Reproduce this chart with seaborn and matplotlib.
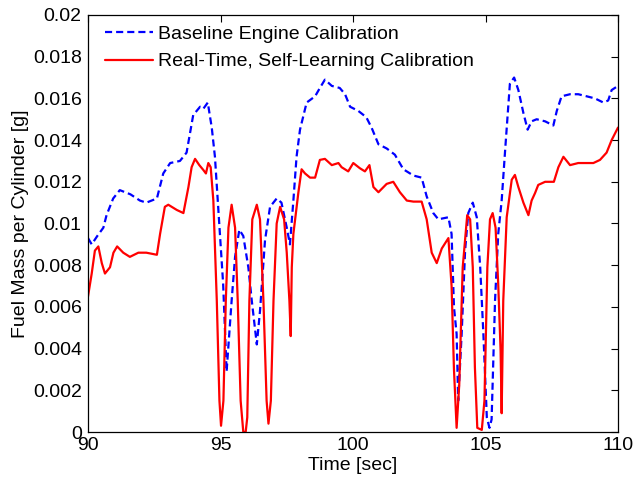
import numpy as np
import pandas as pd
import matplotlib
matplotlib.use('Agg')
import matplotlib.pyplot as plt
import seaborn as sns

# baseline engine calibration (blue dashed)
t_base = [90.0, 90.14, 90.35, 90.58, 90.70, 90.95, 91.2, 91.6, 91.96, 92.2,
          92.6, 92.84, 93.1, 93.47, 93.72, 93.97, 94.23, 94.35, 94.52, 94.67,
          94.79, 95.1, 95.23, 95.42, 95.55, 95.71, 95.86, 96.05, 96.18, 96.37,
          96.49, 96.68, 96.87, 97.12, 97.3, 97.5, 97.62, 97.75, 97.87, 98.0,
          98.25, 98.57, 98.75, 98.94, 99.2, 99.5, 99.7, 99.89, 100.2, 100.5,
          100.7, 100.96, 101.27, 101.58, 101.9, 102.28, 102.59, 102.78, 103.03, 103.22,
          103.6, 103.72, 103.81, 103.91, 103.97, 104.1, 104.23, 104.35, 104.52, 104.67,
          104.8, 104.92, 105.05, 105.15, 105.23, 105.36, 105.48, 105.61, 105.74, 105.92,
          106.08, 106.24, 106.43, 106.59, 106.74, 106.93, 107.25, 107.56, 107.69, 107.87,
          108.19, 108.5, 108.82, 109.13, 109.45, 109.63, 109.76, 110.0]
fuel_base = [0.0093, 0.0090, 0.0094, 0.0098, 0.0104, 0.0112, 0.0116, 0.0114, 0.0111, 0.0110,
             0.0112, 0.0124, 0.0129, 0.0130, 0.0134, 0.0152, 0.0156, 0.0155, 0.0158, 0.0146,
             0.0132, 0.0071, 0.0029, 0.0063, 0.0084, 0.0097, 0.0094, 0.0079, 0.0063, 0.0042,
             0.0058, 0.0092, 0.0108, 0.0112, 0.0110, 0.0098, 0.0090, 0.0111, 0.0132, 0.0145,
             0.0158, 0.0161, 0.0165, 0.0169, 0.0166, 0.0165, 0.0162, 0.0156, 0.0154, 0.0151,
             0.0146, 0.0138, 0.0136, 0.0133, 0.0126, 0.0123, 0.0122, 0.0113, 0.0105, 0.0102,
             0.0103, 0.0095, 0.0060, 0.0047, 0.0015, 0.0047, 0.0087, 0.0105, 0.0110, 0.0103,
             0.0079, 0.0047, 0.0007, 0.0002, 0.0006, 0.0063, 0.0095, 0.0111, 0.0135, 0.0167,
             0.0170, 0.0164, 0.0153, 0.0145, 0.0149, 0.0150, 0.0149, 0.0147, 0.0154, 0.0161,
             0.0162, 0.0162, 0.0161, 0.0160, 0.0158, 0.0159, 0.0164, 0.0166]

# real-time self-learning calibration (red solid)
t_rt = [90.0, 90.14, 90.26, 90.39, 90.52, 90.64, 90.83, 90.96, 91.1, 91.33,
        91.58, 91.9, 92.2, 92.6, 92.72, 92.9, 93.03, 93.35, 93.6, 93.79,
        93.91, 94.04, 94.2, 94.35, 94.45, 94.54, 94.63, 94.73, 94.86, 94.96,
        95.02, 95.11, 95.2, 95.3, 95.42, 95.55, 95.65, 95.76, 95.86, 95.95,
        96.01, 96.09, 96.2, 96.37, 96.49, 96.62, 96.74, 96.81, 96.9, 97.0,
        97.12, 97.25, 97.4, 97.5, 97.6, 97.65, 97.69, 97.75, 97.94, 98.06,
        98.19, 98.38, 98.57, 98.75, 98.94, 99.2, 99.45, 99.57, 99.82, 100.01,
        100.26, 100.45, 100.62, 100.77, 100.96, 101.27, 101.52, 101.77, 102.03, 102.28,
        102.59, 102.78, 102.97, 103.16, 103.35, 103.6, 103.72, 103.81, 103.91, 104.01,
        104.14, 104.31, 104.42, 104.52, 104.6, 104.69, 104.86, 104.96, 105.07, 105.17,
        105.27, 105.38, 105.48, 105.57, 105.61, 105.67, 105.8, 105.99, 106.11, 106.24,
        106.43, 106.62, 106.74, 106.87, 106.99, 107.25, 107.58, 107.75, 107.94, 108.19,
        108.5, 108.82, 109.07, 109.32, 109.57, 109.76, 110.0]
fuel_rt = [0.0065, 0.0076, 0.0087, 0.0089, 0.0081, 0.0076, 0.0079, 0.0086, 0.0089, 0.0086,
           0.0084, 0.0086, 0.0086, 0.0085, 0.0095, 0.0108, 0.0109, 0.01065, 0.0105, 0.01175,
           0.0127, 0.0131, 0.0128, 0.01257, 0.0124, 0.0129, 0.0127, 0.0111, 0.0063, 0.0015,
           0.0003, 0.0015, 0.0063, 0.0098, 0.0109, 0.0098, 0.0063, 0.0015, 0.0000, 0.0000,
           0.0007, 0.0063, 0.0102, 0.0109, 0.0102, 0.0063, 0.0015, 0.0004, 0.0015, 0.0063,
           0.0100, 0.0108, 0.0102, 0.0086, 0.0063, 0.0046, 0.0079, 0.0095, 0.0115, 0.0126,
           0.0124, 0.0122, 0.0122, 0.01305, 0.0131, 0.0128, 0.0129, 0.0127, 0.0125, 0.0129,
           0.01265, 0.0125, 0.0128, 0.01175, 0.0115, 0.0119, 0.0120, 0.0115, 0.0111, 0.01105,
           0.01105, 0.0102, 0.0086, 0.0081, 0.0088, 0.0093, 0.0070, 0.0030, 0.0002, 0.0023,
           0.0079, 0.0104, 0.0102, 0.0079, 0.0031, 0.0002, 0.0001, 0.0015, 0.0079, 0.0102,
           0.0105, 0.0098, 0.0071, 0.0039, 0.0009, 0.0063, 0.0103, 0.0121, 0.01233, 0.01175,
           0.0110, 0.0104, 0.0111, 0.01146, 0.01185, 0.0120, 0.0120, 0.0127, 0.0132, 0.0128,
           0.0129, 0.0129, 0.0129, 0.01305, 0.0134, 0.0140, 0.0146]

xticks = [90, 95, 100, 105, 110]
yticks = [0, 0.002, 0.004, 0.006, 0.008, 0.01, 0.012, 0.014, 0.016, 0.018, 0.02]
ytick_labels = ['0', '0.002', '0.004', '0.006', '0.008', '0.01', '0.012',
                '0.014', '0.016', '0.018', '0.02']

df_base = pd.DataFrame({'t': t_base, 'fuel': fuel_base})
df_rt = pd.DataFrame({'t': t_rt, 'fuel': fuel_rt})

sns.set_style('white')
plt.rcParams['font.family'] = ['Liberation Sans', 'DejaVu Sans']
plt.rcParams['font.size'] = 14
plt.rcParams['text.color'] = 'black'
plt.rcParams['axes.labelcolor'] = 'black'

fig = plt.figure(figsize=(6.36, 4.86), dpi=100)
ax = fig.add_axes([88/636, 54/486, 530/636, 417/486])

sns.lineplot(data=df_base, x='t', y='fuel', ax=ax, color='#0000ff', lw=1.6,
             sort=False, estimator=None, label='Baseline Engine Calibration')
ax.lines[-1].set_dashes((3.2, 1.8))
sns.lineplot(data=df_rt, x='t', y='fuel', ax=ax, color='#ff0000', lw=1.6,
             sort=False, estimator=None, label='Real-Time, Self-Learning Calibration')

ax.set_xlim(90, 110)
ax.set_ylim(0, 0.02)
ax.set_xticks(xticks)
ax.set_xticklabels([str(x) for x in xticks])
ax.set_yticks(yticks)
ax.set_yticklabels(ytick_labels)
ax.tick_params(direction='in', length=5, width=0.8, top=True, right=True,
               labelsize=14, colors='black')
ax.tick_params(axis='x', pad=3.5)
ax.tick_params(axis='y', pad=4.5)
for s in ax.spines.values():
    s.set_color('black')
    s.set_linewidth(0.9)

ax.set_xlabel('Time [sec]', fontsize=14, labelpad=2, color='black')
ax.set_ylabel('Fuel Mass per Cylinder [g]', fontsize=14, labelpad=3, color='black')

leg = ax.legend(loc='upper left', frameon=False, fontsize=14, handlelength=2.47,
                handletextpad=0.26, borderaxespad=0.15, labelspacing=0.49,
                bbox_to_anchor=(0.012, 1.0))
for txt in leg.get_texts():
    txt.set_color('black')

fig.savefig('out.png', dpi=100)
